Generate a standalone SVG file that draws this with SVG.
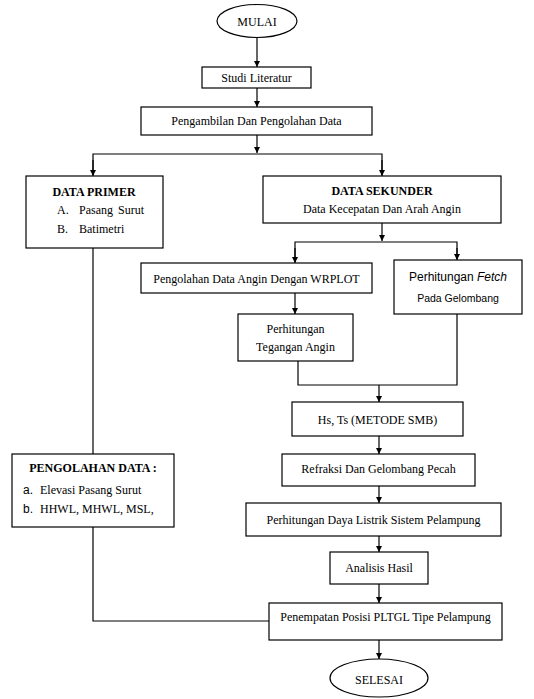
<svg xmlns="http://www.w3.org/2000/svg" width="534" height="699" viewBox="0 0 534 699">
<style>
.box{fill:#fff;stroke:#000;stroke-width:1.2}
.t{font-family:"Liberation Serif","Times New Roman",serif;font-size:12px;fill:#000}
.c{text-anchor:middle}
.b{font-weight:bold}
.s{font-family:"Liberation Sans",Arial,sans-serif}
.sm{font-size:10.5px}
.ln{fill:none;stroke:#000;stroke-width:1.2}
</style>
<defs>
<marker id="ah" viewBox="0 0 10 10" refX="10" refY="5" markerWidth="6" markerHeight="7" orient="auto" markerUnits="userSpaceOnUse">
<path d="M0,0 L10,5 L0,10 z" fill="#000"/>
</marker>
</defs>
<rect width="534" height="699" fill="#fff"/>
<g id="connectors">
<line class="ln" x1="257" y1="38" x2="257" y2="67" marker-end="url(#ah)"/>
<line class="ln" x1="257" y1="88" x2="257" y2="107" marker-end="url(#ah)"/>
<line class="ln" x1="257" y1="135" x2="257" y2="153" marker-end="url(#ah)"/>
<polyline class="ln" points="93,175 93,154 382,154 382,175"/>
<line class="ln" x1="93" y1="160" x2="93" y2="176" marker-end="url(#ah)"/>
<line class="ln" x1="382" y1="160" x2="382" y2="176" marker-end="url(#ah)"/>
<line class="ln" x1="382" y1="223" x2="382" y2="241" marker-end="url(#ah)"/>
<polyline class="ln" points="295,262 295,242 457,242 457,259"/>
<line class="ln" x1="295" y1="248" x2="295" y2="263" marker-end="url(#ah)"/>
<line class="ln" x1="457" y1="248" x2="457" y2="260" marker-end="url(#ah)"/>
<line class="ln" x1="295" y1="293" x2="295" y2="314" marker-end="url(#ah)"/>
<polyline class="ln" points="298,361 298,385 457,385 457,314"/>
<line class="ln" x1="379" y1="385" x2="379" y2="402" marker-end="url(#ah)"/>
<line class="ln" x1="379" y1="436" x2="379" y2="454" marker-end="url(#ah)"/>
<line class="ln" x1="379" y1="486" x2="379" y2="503" marker-end="url(#ah)"/>
<line class="ln" x1="379" y1="536" x2="379" y2="552" marker-end="url(#ah)"/>
<line class="ln" x1="379" y1="584" x2="379" y2="603" marker-end="url(#ah)"/>
<line class="ln" x1="379" y1="640" x2="379" y2="659" marker-end="url(#ah)"/>
<line class="ln" x1="93" y1="248" x2="93" y2="454"/>
<polyline class="ln" points="93,527 93,621 269,621"/>
</g>
<g id="mulai">
<ellipse class="box" cx="257" cy="21" rx="40" ry="16.5"/>
<text class="t c" x="257" y="26">MULAI</text>
</g>
<g id="studi">
<rect class="box" x="202" y="67" width="109" height="21"/>
<text class="t c" x="256.5" y="82">Studi Literatur</text>
</g>
<g id="pengambilan">
<rect class="box" x="141" y="107" width="231" height="28"/>
<text class="t c" x="256.5" y="125">Pengambilan Dan Pengolahan Data</text>
</g>
<g id="primer">
<rect class="box" x="26" y="176" width="137" height="72"/>
<text class="t c b" x="94" y="196">DATA PRIMER</text>
<text class="t" x="57" y="214">A.</text>
<text class="t" x="79" y="214">Pasang</text>
<text class="t" x="118" y="214">Surut</text>
<text class="t" x="57" y="233">B.</text>
<text class="t" x="79" y="233">Batimetri</text>
</g>
<g id="sekunder">
<rect class="box" x="263" y="176" width="238" height="47"/>
<text class="t c b" x="382" y="195">DATA SEKUNDER</text>
<text class="t c" x="382" y="213">Data Kecepatan Dan Arah Angin</text>
</g>
<g id="wrplot">
<rect class="box" x="141" y="263" width="231" height="30"/>
<text class="t c" x="256.5" y="283">Pengolahan Data Angin Dengan WRPLOT</text>
</g>
<g id="fetch">
<rect class="box" x="394" y="260" width="128" height="54"/>
<text class="t c s" x="458" y="281">Perhitungan <tspan font-style="italic">Fetch</tspan></text>
<text class="t c s sm" x="458" y="302">Pada Gelombang</text>
</g>
<g id="tegangan">
<rect class="box" x="238" y="314" width="115" height="47"/>
<text class="t c" x="295.5" y="333">Perhitungan</text>
<text class="t c" x="295.5" y="351">Tegangan Angin</text>
</g>
<g id="hs">
<rect class="box" x="292" y="402" width="171" height="34"/>
<text class="t c" x="377.5" y="424">Hs, Ts (METODE SMB)</text>
</g>
<g id="refraksi">
<rect class="box" x="282" y="454" width="193" height="32"/>
<text class="t c" x="378.5" y="473">Refraksi Dan Gelombang Pecah</text>
</g>
<g id="daya">
<rect class="box" x="246" y="503" width="255" height="33"/>
<text class="t c" x="373.5" y="524">Perhitungan Daya Listrik Sistem Pelampung</text>
</g>
<g id="pengolahan">
<rect class="box" x="12" y="454" width="162" height="73"/>
<text class="t c b" x="93" y="472">PENGOLAHAN DATA :</text>
<text class="t s" x="23" y="494">a.</text>
<text class="t" x="40" y="494">Elevasi Pasang Surut</text>
<text class="t s" x="23" y="513">b.</text>
<text class="t" x="40" y="513">HHWL, MHWL, MSL,</text>
</g>
<g id="analisis">
<rect class="box" x="330" y="552" width="98" height="32"/>
<text class="t c" x="379" y="572">Analisis Hasil</text>
</g>
<g id="penempatan">
<rect class="box" x="269" y="603" width="233" height="37"/>
<text class="t c" x="385.5" y="621">Penempatan Posisi PLTGL Tipe Pelampung</text>
</g>
<g id="selesai">
<ellipse class="box" cx="379" cy="678" rx="49" ry="19"/>
<text class="t c" x="379" y="684">SELESAI</text>
</g>
</svg>
